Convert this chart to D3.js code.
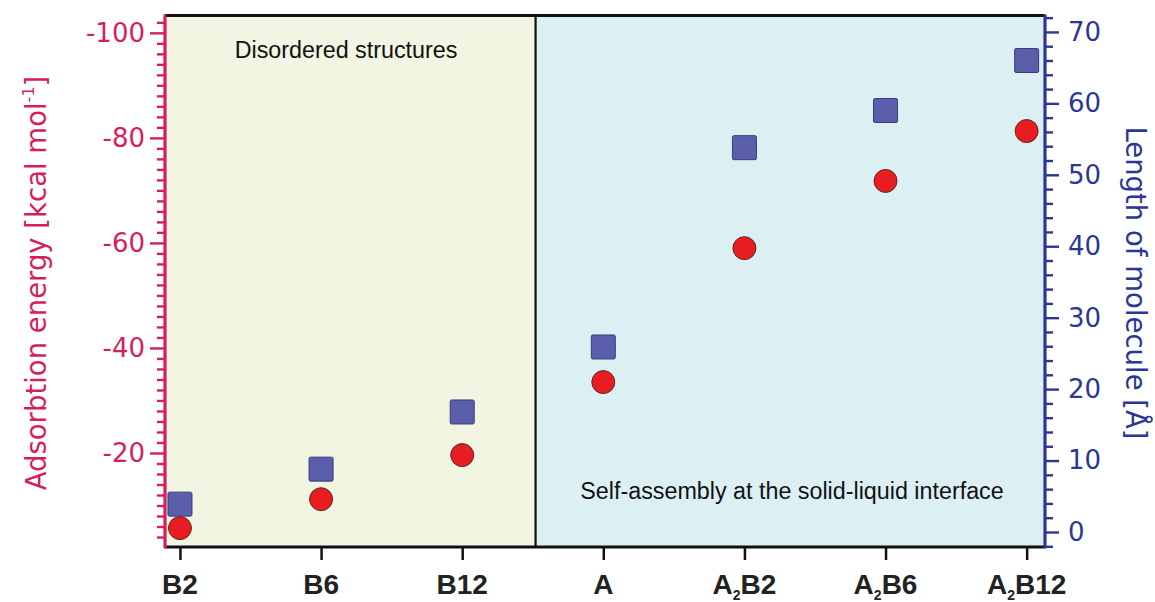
<!DOCTYPE html>
<html><head><meta charset="utf-8">
<script src="https://cdn.jsdelivr.net/npm/d3@7"></script>
<style>body{margin:0;background:#fff}</style>
</head><body><svg id="c" width="1155" height="602"></svg>
<script>
// ---- data ----
const categories = ["B2","B6","B12","A","A2B2","A2B6","A2B12"];
const adsorptionEnergy = [-5.7, -11.2, -19.6, -33.5, -59.0, -71.8, -81.3];   // kcal/mol, left axis
const moleculeLength   = [3.9, 8.8, 16.8, 25.9, 53.8, 59.0, 66.0];           // Å, right axis
const leftTicks  = [-100, -80, -60, -40, -20];
const rightTicks = [0, 10, 20, 30, 40, 50, 60, 70];
const regionLabels = ["Disordered structures", "Self-assembly at the solid-liquid interface"];
const regionSplit = 2.52; // between B12 and A (category index units)

// ---- layout ----
const svg = d3.select("#c");
const L = 165, R = 1045, T = 15.5, B = 547;
const leftCol = "#d61e5a", rightCol = "#2b3796";

const x = d3.scaleLinear().domain([-0.106, 6.13]).range([L, R]);
const yL = d3.scaleLinear().domain([-2.1, -103.3]).range([B, T]);
const yR = d3.scaleLinear().domain([-2.1, 72.3]).range([B, T]);

// backgrounds
svg.append("rect").attr("x", L).attr("y", T).attr("width", x(regionSplit) - L).attr("height", B - T).attr("fill", "#f2f5e2");
svg.append("rect").attr("x", x(regionSplit)).attr("y", T).attr("width", R - x(regionSplit)).attr("height", B - T).attr("fill", "#dcf0f4");
svg.append("line").attr("x1", x(regionSplit)).attr("x2", x(regionSplit)).attr("y1", T).attr("y2", B)
  .attr("stroke", "#111").attr("stroke-width", 2.2);

// region labels
const annFont = "'Liberation Sans', Arial, sans-serif";
svg.append("text").attr("x", 346).attr("y", 58).attr("text-anchor", "middle")
  .attr("font-family", annFont).attr("font-size", 23.3).attr("fill", "#111").text(regionLabels[0]);
svg.append("text").attr("x", 792).attr("y", 499).attr("text-anchor", "middle")
  .attr("font-family", annFont).attr("font-size", 23.3).attr("fill", "#111").text(regionLabels[1]);

// points: squares (length) then circles (energy)
const sq = 24;
svg.append("g").selectAll("rect").data(moleculeLength).join("rect")
  .attr("x", (d, i) => x(i) - sq / 2).attr("y", d => yR(d) - sq / 2)
  .attr("width", sq).attr("height", sq).attr("rx", 1.5)
  .attr("fill", "#5a5eab").attr("stroke", "#3a3d7a").attr("stroke-width", 1);
svg.append("g").selectAll("circle").data(adsorptionEnergy).join("circle")
  .attr("cx", (d, i) => x(i)).attr("cy", d => yL(d)).attr("r", 11.5)
  .attr("fill", "#e81d22").attr("stroke", "#5a2a20").attr("stroke-width", 1);

// frame
svg.append("line").attr("x1", L).attr("x2", R).attr("y1", T).attr("y2", T).attr("stroke", "#111").attr("stroke-width", 3);
svg.append("line").attr("x1", L - 1).attr("x2", R + 1).attr("y1", B).attr("y2", B).attr("stroke", "#111").attr("stroke-width", 3);

const tickFont = "'DejaVu Sans', Verdana, sans-serif";

// left axis
const minorL = d3.range(-102, -2, 2).filter(v => !leftTicks.includes(v));
const gLm = svg.append("g").attr("transform", `translate(${L},0)`)
  .call(d3.axisLeft(yL).tickValues(minorL).tickSize(8).tickFormat(""));
const gL = svg.append("g").attr("transform", `translate(${L},0)`)
  .call(d3.axisLeft(yL).tickValues(leftTicks).tickSize(15).tickPadding(5).tickFormat(d => String(d)));
[gLm, gL].forEach(g => {
  g.select(".domain").remove();
  g.selectAll("line").attr("stroke", leftCol).attr("stroke-width", 2.4);
});
gL.selectAll("text").attr("fill", leftCol).attr("font-family", tickFont).attr("font-size", 26);
svg.append("line").attr("x1", L).attr("x2", L).attr("y1", T - 1).attr("y2", B + 1).attr("stroke", leftCol).attr("stroke-width", 3.2);

// right axis
const minorR = d3.range(-2, 73, 2).filter(v => !rightTicks.includes(v));
const gRm = svg.append("g").attr("transform", `translate(${R},0)`)
  .call(d3.axisRight(yR).tickValues(minorR).tickSize(8).tickFormat(""));
const gR = svg.append("g").attr("transform", `translate(${R},0)`)
  .call(d3.axisRight(yR).tickValues(rightTicks).tickSize(14).tickPadding(9).tickFormat(d => String(d)));
[gRm, gR].forEach(g => {
  g.select(".domain").remove();
  g.selectAll("line").attr("stroke", rightCol).attr("stroke-width", 2.4);
});
gR.selectAll("text").attr("fill", rightCol).attr("font-family", tickFont).attr("font-size", 26);
svg.append("line").attr("x1", R).attr("x2", R).attr("y1", T - 1).attr("y2", B + 1).attr("stroke", rightCol).attr("stroke-width", 3.2);

// bottom axis
const gB = svg.append("g").attr("transform", `translate(0,${B})`)
  .call(d3.axisBottom(x).tickValues(d3.range(categories.length)).tickSize(13).tickFormat(""));
gB.select(".domain").remove();
gB.selectAll("line").attr("stroke", "#111").attr("stroke-width", 2.5);
const lab = svg.append("g").selectAll("text").data(categories).join("text")
  .attr("x", (d, i) => x(i)).attr("y", 594).attr("text-anchor", "middle")
  .attr("font-family", "'Liberation Sans', Arial, sans-serif").attr("font-weight", "bold")
  .attr("font-size", 28).attr("fill", "#222");
lab.each(function(d) {
  const t = d3.select(this);
  if (d.startsWith("A2")) {
    t.append("tspan").text("A");
    t.append("tspan").attr("font-size", 14).attr("dy", 6).text("2");
    t.append("tspan").attr("dy", -6).text(d.slice(2));
  } else t.text(d);
});

// axis titles
const titleL = svg.append("text").attr("transform", "translate(46,283) rotate(-90)").attr("text-anchor", "middle")
  .attr("font-family", tickFont).attr("font-size", 27.5).attr("fill", leftCol);
titleL.append("tspan").text("Adsorbtion energy [kcal mol");
titleL.append("tspan").attr("font-size", 16).attr("dy", -12).text("-1");
titleL.append("tspan").attr("dy", 12).text("]");
svg.append("text").attr("transform", "translate(1126,283) rotate(90)").attr("text-anchor", "middle")
  .attr("font-family", tickFont).attr("font-size", 27.5).attr("fill", rightCol).text("Length of molecule [Å]");
</script></body></html>
